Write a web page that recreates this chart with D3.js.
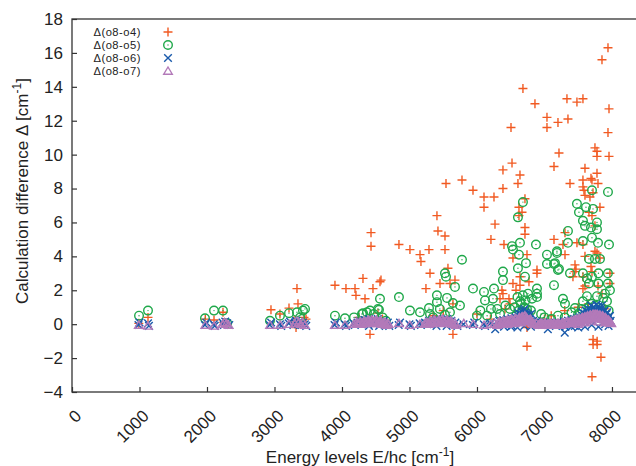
<!DOCTYPE html>
<html>
<head>
<meta charset="utf-8">
<script src="https://cdn.jsdelivr.net/npm/d3@7"></script>
<style>
  html, body { margin: 0; padding: 0; background: #fff; }
  svg { display: block; font-family: "Liberation Sans", Arial, sans-serif; }
</style>
</head>
<body>
<div id="chart"></div>
<script>
// Δ(o8-o4): energy level [cm-1], difference [cm-1]
const diffO4 = [
	[990, 0.05], [1126, 0.4],
	[1975, 0.3], [2104, 0.25], [2237, 0.7], [2250, 0.1],
	[2948, 0.85], [3081, 0.6], [3215, 0.95], [3333, 2.1], [3348, 1.2], [3319, -0.2], [3437, 0.4], [3467, 0.3], [3290, 0.2],
	[3896, 2.3], [4059, 2.1], [4193, 2.1], [4207, 1.7], [4311, 2.7], [4459, 2.1], [4341, 1.5], [4578, 2.6], [4563, 2.5],
	[4430, 5.4], [4430, 4.6], [4415, -0.6], [4533, 0.65], [4600, 0.3], [4250, 0.4], [4480, 0.2],
	[4844, 4.7], [5007, 4.4], [5156, 4.1], [5170, 3.7], [5289, 4.4], [5407, 6.4], [5422, 5.5], [5526, 5.2], [5526, 4.4],
	[5304, 3.0], [5570, 3.3], [5452, 2.4], [5674, 2.6], [5600, 2.4], [5244, 2.1], [5541, 8.3], [5778, 8.5], [5644, 1.2],
	[5644, -0.6], [5500, 0.8], [5350, 0.5],
	[5941, 7.9], [6104, 7.5], [6252, 7.5], [6104, 6.9], [6385, 8.0], [6607, 8.3], [6267, 5.9], [6207, 5.0], [6400, 4.7],
	[6533, 3.9], [6370, 2.0], [6578, 2.0], [6474, 1.5], [6385, 1.8], [6415, 0.9], [6341, 1.5], [6489, 1.2], [6637, 2.3],
	[6533, 2.4], [6770, 2.5], [6637, 2.8], [6889, 3.2], [6889, 3.0], [6741, 4.1], [6711, 5.7], [6711, 5.3], [6711, 7.4],
	[6622, 6.9], [6667, 6.6], [6622, 6.4], [6637, 8.8], [6385, 9.1], [6519, 9.5], [6504, 11.6], [6681, 13.9], [6859, 13.0],
	[6741, -1.3], [6741, -0.2], [6741, 0.05], [6000, 0.6], [6200, 0.3],
	[7037, 12.2], [7037, 11.6], [7200, 11.9], [7348, 12.1], [7333, 13.3], [7481, 13.1], [7570, 13.3], [7941, 16.3],
	[7852, 15.6], [7956, 12.7], [7941, 11.3], [7748, 10.4], [7778, 10.2], [7778, 9.9], [7215, 10.1], [7956, 9.9],
	[7141, 9.3], [7600, 9.2], [7778, 8.9], [7689, 8.6], [7378, 8.3], [7570, 8.5], [7704, 8.5], [7793, 8.3], [7570, 8.1],
	[7585, 7.9], [7600, 7.6], [7674, 7.5], [7719, 7.75], [7822, 6.9], [7659, 6.6], [7704, 6.4], [7748, 5.8], [7304, 5.4],
	[7141, 5.0], [7274, 4.7], [7481, 4.8], [7570, 4.7], [7304, 4.1], [7600, 4.0], [7822, 3.9], [7778, 4.2], [7748, 4.3],
	[7452, 3.5], [7467, 3.25], [7689, 3.4], [7704, 3.1], [7422, 2.8], [7570, 2.8], [7970, 3.0], [7970, 2.4], [7570, 2.1],
	[7852, 1.8], [7793, 2.25], [7600, 2.25], [7452, 3.1], [7720, -0.9], [7780, -1.0], [7720, -1.2], [7780, -1.2],
	[7837, -1.95], [7704, -3.1], [7100, 0.5], [7300, 0.8], [7500, 1.0], [7650, 1.2], [7900, 0.9], [7000, 0.3]
];

// Δ(o8-o5)
const diffO5 = [
	[993, 0.5], [1126, 0.8], [1970, 0.35], [2104, 0.8], [2237, 0.8], [2300, 0.05],
	[2933, 0.2], [3081, 0.5], [3215, 0.65], [3333, 0.7], [3422, 0.8], [3452, 0.9], [3380, 0.4],
	[3896, 0.5], [4044, 0.35], [4178, 0.4], [4296, 0.6], [4311, 0.65], [4415, 0.8], [4548, 0.85], [4533, 0.9],
	[4563, 1.5], [4844, 1.6], [4370, 0.7], [4470, 0.6], [4600, 0.4], [4650, 0.2],
	[5007, 0.8], [5156, 0.7], [5289, 0.95], [5304, 0.6], [5407, 1.7], [5407, 1.3], [5556, 1.55], [5526, 3.0],
	[5541, 2.8], [5778, 3.8], [5674, 2.2], [5941, 2.1], [5748, 1.1], [5644, 1.25], [5526, 0.55], [5450, 0.9],
	[5600, 0.7], [5350, 0.4],
	[6104, 1.9], [6119, 1.4], [6252, 2.1], [6237, 1.5], [6207, 0.9], [6341, 0.6], [6489, 0.9], [6385, 3.1],
	[6385, 2.6], [6519, 4.6], [6533, 4.4], [6637, 4.8], [6874, 4.7], [6622, 4.1], [6726, 3.6], [6607, 3.3],
	[6711, 2.8], [6681, 7.2], [6607, 6.3], [6637, 1.35], [6756, 1.8], [6815, 1.5], [6889, 2.1], [6889, 1.8],
	[6889, 1.6], [7037, 4.1], [7185, 4.3], [7037, 3.55], [7156, 3.6], [7200, 3.2], [7141, 2.3], [6050, 0.8],
	[6150, 0.5], [6300, 0.9], [6420, 1.1], [6560, 1.0], [6600, 1.6], [6650, 1.2], [6680, 1.7], [6700, 1.0],
	[6720, 1.4], [6740, 0.9], [6660, 0.7], [6690, 0.5], [6620, 0.8], [6580, 0.5], [6760, 0.6], [6800, 0.8],
	[6950, 0.6], [7000, 0.4], [6000, 0.5],
	[7704, 7.9], [7941, 7.8], [7481, 7.1], [7615, 6.9], [7719, 6.8], [7511, 6.6], [7570, 6.1], [7600, 5.8],
	[7778, 6.0], [7778, 5.6], [7689, 5.7], [7348, 5.5], [7348, 4.8], [7570, 4.9], [7704, 5.1], [7793, 4.8],
	[7956, 4.7], [7185, 4.2], [7141, 3.55], [7215, 3.25], [7660, 3.85], [7748, 3.85], [7822, 3.85], [7378, 3.0],
	[7570, 3.0], [7630, 2.7], [7704, 2.8], [7800, 3.0], [7940, 3.0], [7940, 2.4], [7800, 2.4], [7660, 2.4],
	[7970, 2.0], [7274, 1.5], [7304, 1.2], [7452, 0.95], [7570, 1.35], [7630, 1.65], [7778, 1.65], [7870, 1.55],
	[7926, 1.35], [7896, 1.8], [7400, 0.7], [7500, 0.6], [7550, 0.9], [7650, 1.0], [7700, 1.2], [7750, 1.1],
	[7850, 0.9], [7950, 0.8], [7300, 0.4], [7200, 0.5], [7100, 0.3], [7600, 0.5], [7750, 0.6]
];

// Δ(o8-o6)
const diffO6 = [
	[985, -0.05], [1000, 0.1], [1126, 0.05], [1140, -0.1],
	[1970, -0.05], [1990, 0.1], [2100, 0.0], [2115, -0.1], [2230, 0.1], [2250, -0.05], [2270, 0.15], [2300, 0.05], [2330, -0.05],
	[2930, -0.05], [2950, 0.1], [3080, 0.0], [3100, -0.1], [3210, 0.05], [3230, 0.15], [3280, -0.05], [3300, 0.1],
	[3320, 0.2], [3350, 0.0], [3370, 0.15], [3400, -0.05], [3420, 0.1], [3450, 0.0], [3470, -0.1],
	[3890, -0.05], [3910, 0.1], [4040, 0.0], [4060, -0.1], [4170, 0.05], [4190, -0.05], [4230, 0.1], [4260, 0.2],
	[4290, 0.0], [4310, 0.15], [4340, 0.25], [4370, 0.05], [4400, 0.3], [4420, 0.1], [4450, 0.2], [4480, 0.0],
	[4500, 0.15], [4530, 0.3], [4560, 0.1], [4590, 0.05], [4620, 0.2], [4650, -0.05], [4680, 0.1], [4700, -0.1],
	[4400, -0.1], [4550, -0.1],
	[4840, -0.05], [4860, 0.1], [5000, 0.0], [5020, -0.1], [5150, 0.05], [5170, -0.05], [5230, 0.1], [5260, 0.0],
	[5290, 0.2], [5310, 0.05], [5340, 0.25], [5370, 0.1], [5400, 0.3], [5420, 0.15], [5450, 0.2], [5480, 0.05],
	[5500, 0.25], [5530, 0.1], [5560, 0.3], [5590, 0.15], [5620, 0.2], [5650, 0.0], [5680, 0.1], [5710, -0.1],
	[5400, -0.1], [5550, -0.1],
	[5800, 0.0], [5940, -0.05], [5960, 0.1], [6100, 0.0], [6120, -0.1], [6200, 0.05], [6250, 0.0], [6270, -0.3],
	[6300, 0.1], [6330, 0.2], [6360, 0.05], [6390, 0.25], [6420, 0.1], [6450, 0.3], [6480, 0.15], [6510, 0.35],
	[6540, 0.2], [6570, 0.4], [6590, 0.3], [6610, 0.5], [6630, 0.35], [6650, 0.6], [6670, 0.45], [6690, 0.8],
	[6700, 0.5], [6720, 0.7], [6740, 0.4], [6760, 0.55], [6780, 0.3], [6800, 0.6], [6830, 0.2], [6850, 0.1],
	[6615, 0.65], [6660, 0.75], [6705, 0.9], [6735, 0.6],
	[6400, -0.15], [6500, -0.15], [6700, -0.1], [6800, -0.15],
	[6880, 0.15], [6900, 0.0], [6930, 0.1], [6960, -0.05], [6990, 0.05], [7020, 0.0], [7050, -0.05], [7080, 0.1],
	[7110, 0.0], [7140, 0.05], [7170, -0.1], [7200, 0.1], [7230, 0.0], [7260, 0.05], [7290, 0.15], [7310, -0.15],
	[7330, 0.1], [7350, 0.2], [7370, 0.05], [7400, 0.25], [7420, 0.1], [7440, 0.3], [7460, 0.15], [7480, 0.35],
	[7500, 0.2], [7520, 0.4], [7540, 0.3], [7560, 0.5], [7580, 0.35], [7600, 0.6], [7620, 0.45], [7640, 0.7],
	[7660, 0.55], [7680, 0.85], [7700, 0.6], [7720, 1.0], [7740, 0.7], [7760, 0.9], [7780, 0.6], [7800, 1.05],
	[7820, 0.7], [7840, 0.9], [7860, 0.5], [7880, 0.75], [7900, 0.4], [7920, 0.6], [7940, 0.3], [7960, 0.45],
	[7980, 0.2], [6600, -0.2], [7050, -0.3], [7300, -0.5], [6520, -0.1], [7450, -0.1], [7700, -0.05], [7900, 0.0],
	[7560, 0.7], [7610, 0.8], [7650, 0.9], [7690, 1.1], [7730, 0.85], [7770, 1.15], [7810, 0.9], [7850, 1.1],
	[7890, 0.8], [7930, 0.7], [7970, 0.5],
	[7400, -0.15], [7500, -0.2], [7600, -0.15], [7800, -0.15], [7950, -0.1]
];

// Δ(o8-o7)
const diffO7 = [
	[990, -0.05], [1126, -0.1],
	[1975, -0.05], [2105, -0.1], [2235, 0.0], [2260, 0.1], [2290, 0.05], [2320, -0.05],
	[2935, -0.05], [3085, -0.05], [3215, 0.0], [3300, 0.05], [3330, 0.2], [3360, 0.1], [3390, 0.0], [3420, 0.1], [3450, -0.05],
	[3895, -0.05], [4045, -0.05], [4175, 0.0], [4230, 0.05], [4260, 0.1], [4290, 0.0], [4320, 0.15], [4350, 0.05],
	[4380, 0.2], [4410, 0.1], [4440, 0.25], [4470, 0.1], [4500, 0.2], [4530, 0.05], [4560, 0.15], [4590, 0.0],
	[4620, 0.1], [4660, -0.05], [4690, 0.0],
	[4215, 0.1], [4245, 0.0], [4275, 0.15], [4305, 0.05], [4335, 0.2], [4365, 0.1], [4395, 0.25], [4425, 0.05],
	[4455, 0.2], [4485, 0.15], [4515, 0.25], [4545, 0.1], [4575, 0.2], [4605, 0.05], [4640, 0.1], [4675, 0.05],
	[4845, 0.05], [5005, -0.05], [5155, 0.0], [5230, 0.05], [5260, 0.1], [5290, 0.0], [5320, 0.15], [5350, 0.05],
	[5380, 0.2], [5410, 0.1], [5440, 0.25], [5470, 0.05], [5500, 0.2], [5530, 0.1], [5560, 0.25], [5590, 0.05],
	[5620, 0.15], [5650, 0.0], [5690, -0.05],
	[5245, 0.1], [5275, 0.05], [5305, 0.2], [5335, 0.1], [5365, 0.25], [5395, 0.1], [5425, 0.2], [5455, 0.15],
	[5485, 0.3], [5515, 0.15], [5545, 0.2], [5575, 0.1], [5605, 0.2], [5635, 0.05], [5670, 0.1],
	[5805, 0.05], [5945, 0.0], [6105, -0.05], [6205, 0.0], [6260, 0.05], [6300, -0.05], [6320, 0.1], [6350, 0.0],
	[6380, 0.15], [6410, 0.05], [6440, 0.2], [6470, 0.1], [6500, 0.25], [6530, 0.1], [6560, 0.3], [6590, 0.15],
	[6620, 0.35], [6640, 0.2], [6660, 0.4], [6680, 0.25], [6700, 0.45], [6720, 0.3], [6740, 0.35], [6760, 0.2],
	[6790, 0.3], [6820, 0.1], [6850, 0.0],
	[6310, 0.05], [6335, 0.15], [6365, 0.1], [6395, 0.2], [6425, 0.15], [6455, 0.25], [6485, 0.2], [6515, 0.3],
	[6545, 0.2], [6575, 0.35], [6605, 0.25], [6630, 0.4], [6650, 0.3], [6670, 0.45], [6690, 0.35], [6710, 0.5],
	[6730, 0.4], [6750, 0.3], [6775, 0.25], [6805, 0.2], [6835, 0.05],
	[6450, 0.0], [6550, 0.05], [6650, 0.1], [6700, 0.15],
	[6880, 0.05], [6910, -0.05], [6940, 0.05], [6970, 0.0], [7000, 0.05],
	[7030, -0.05], [7060, 0.0], [7090, 0.05], [7120, -0.05], [7150, 0.05], [7180, 0.0], [7210, 0.05], [7240, -0.05],
	[7270, 0.1], [7300, 0.0], [7330, 0.1], [7360, 0.05], [7390, 0.15], [7410, 0.05], [7430, 0.2], [7450, 0.1],
	[7470, 0.25], [7490, 0.1], [7510, 0.3], [7530, 0.15], [7550, 0.35], [7570, 0.2], [7590, 0.4], [7610, 0.25],
	[7630, 0.45], [7650, 0.3], [7670, 0.5], [7690, 0.35], [7710, 0.55], [7730, 0.4], [7750, 0.6], [7770, 0.45],
	[7790, 0.55], [7810, 0.35], [7830, 0.5], [7850, 0.3], [7870, 0.45], [7890, 0.25], [7910, 0.35], [7930, 0.15],
	[7950, 0.25], [7970, 0.1], [7990, 0.05],
	[6925, 0.0], [6955, 0.05], [6985, -0.05], [7015, 0.05], [7045, 0.0], [7075, 0.05], [7105, 0.0], [7135, 0.05],
	[7165, -0.05], [7195, 0.05], [7225, 0.0], [7255, 0.05], [7285, 0.05], [7315, 0.1], [7345, 0.15], [7375, 0.1],
	[7400, 0.2], [7420, 0.15], [7440, 0.25], [7460, 0.2], [7480, 0.3], [7500, 0.2], [7520, 0.35], [7540, 0.25],
	[7560, 0.4], [7580, 0.3], [7600, 0.45], [7620, 0.35], [7640, 0.5], [7660, 0.4], [7680, 0.55], [7700, 0.45],
	[7720, 0.6], [7740, 0.5], [7760, 0.55], [7780, 0.6], [7800, 0.45], [7820, 0.55], [7840, 0.4], [7860, 0.5],
	[7880, 0.35], [7900, 0.4], [7920, 0.3], [7940, 0.2], [7960, 0.15], [7980, 0.1],
	[7500, 0.0], [7600, 0.1], [7700, 0.2], [7800, 0.15], [7900, 0.1]
];

const seriesNames = ["Δ(o8-o4)", "Δ(o8-o5)", "Δ(o8-o6)", "Δ(o8-o7)"];
const xTicks = [0, 1000, 2000, 3000, 4000, 5000, 6000, 7000, 8000];
const yTicks = [-4, -2, 0, 2, 4, 6, 8, 10, 12, 14, 16, 18];

const width = 636;
const height = 466;
const margin = { top: 19, right: 0, bottom: 74, left: 72 };

const x = d3.scaleLinear().domain([0, 8356]).range([margin.left, width - margin.right]);
const y = d3.scaleLinear().domain([-4, 18]).range([height - margin.bottom, margin.top]);

// marker shapes, gnuplot-ish outlines
const shapes = {
	plus: "M-4.5,0H4.5M0,-4.5V4.5",
	circle: null,
	cross: "M-3.8,-3.8L3.8,3.8M-3.8,3.8L3.8,-3.8",
	triangle: "M0,-4L4.3,3.2L-4.3,3.2Z"
};
const series = [
	{ name: seriesNames[0], data: diffO4, shape: "plus", color: "#f15a22" },
	{ name: seriesNames[1], data: diffO5, shape: "circle", color: "#1fa84a" },
	{ name: seriesNames[2], data: diffO6, shape: "cross", color: "#1a5aab" },
	{ name: seriesNames[3], data: diffO7, shape: "triangle", color: "#b37ab9" }
];

const svg = d3
	.select("#chart")
	.append("svg")
	.attr("width", width)
	.attr("height", height);

const drawMarker = (g, s) => {
	if (s.shape === "circle") {
		g.append("circle").attr("r", 4.3).attr("fill", "none").attr("stroke", s.color).attr("stroke-width", 1.4);
		g.append("circle").attr("r", 0.7).attr("fill", s.color);
	} else {
		g.append("path")
			.attr("d", shapes[s.shape])
			.attr("fill", "none")
			.attr("stroke", s.color)
			.attr("stroke-width", 1.4);
	}
};

// points
const plot = svg.append("g");
series.forEach((s) => {
	const gs = plot.append("g");
	gs.selectAll("g")
		.data(s.data)
		.join("g")
		.attr("transform", (d) => `translate(${x(d[0])},${y(d[1])})`)
		.each(function () {
			drawMarker(d3.select(this), s);
		});
});

// frame
svg.append("rect")
	.attr("x", margin.left)
	.attr("y", margin.top)
	.attr("width", width - margin.left - margin.right + 2)
	.attr("height", y(-4) - margin.top)
	.attr("fill", "none")
	.attr("stroke", "#333")
	.attr("stroke-width", 1.3);

// y axis (ticks pointing inward)
const yAxis = svg
	.append("g")
	.attr("transform", `translate(${margin.left},0)`)
	.call(d3.axisLeft(y).tickValues(yTicks).tickSize(-5).tickPadding(9));
yAxis.select(".domain").remove();
yAxis.selectAll(".tick line").attr("stroke", "#333").attr("stroke-width", 1.2);
yAxis.selectAll("text").attr("font-size", 17).attr("fill", "#222").attr("font-family", "Liberation Sans, Arial, sans-serif");

// x axis
const xAxis = svg
	.append("g")
	.attr("transform", `translate(0,${y(-4)})`)
	.call(d3.axisBottom(x).tickValues(xTicks).tickSize(-5).tickFormat(d3.format("d")));
xAxis.select(".domain").remove();
xAxis.selectAll(".tick line").attr("stroke", "#333").attr("stroke-width", 1.2);
xAxis.selectAll("text")
	.attr("font-size", 17)
	.attr("fill", "#222")
	.attr("font-family", "Liberation Sans, Arial, sans-serif")
	.attr("text-anchor", "end")
	.attr("dy", null)
	.attr("y", 0)
	.attr("transform", "translate(10,25) rotate(-45)");

// axis titles
const xTitle = svg.append("text")
	.attr("x", 360)
	.attr("y", 463)
	.attr("text-anchor", "middle")
	.attr("font-size", 17)
	.attr("fill", "#222");
xTitle.append("tspan").text("Energy levels E/hc [cm");
xTitle.append("tspan").attr("dy", -7).attr("font-size", 12).text("-1");
xTitle.append("tspan").attr("dy", 7).text("]");

const yTitle = svg.append("text")
	.attr("transform", "translate(28,191) rotate(-90)")
	.attr("text-anchor", "middle")
	.attr("font-size", 17)
	.attr("fill", "#222");
yTitle.append("tspan").text("Calculation difference Δ [cm");
yTitle.append("tspan").attr("dy", -7).attr("font-size", 12).text("-1");
yTitle.append("tspan").attr("dy", 7).text("]");

// legend
const legend = svg.append("g").attr("transform", "translate(0,32)");
series.forEach((s, i) => {
	const row = legend.append("g").attr("transform", `translate(0,${i * 13})`);
	row.append("text")
		.attr("x", 141)
		.attr("y", 0)
		.attr("dy", "0.35em")
		.attr("text-anchor", "end")
		.attr("font-size", 11.2)
		.attr("letter-spacing", 0.5)
		.attr("fill", "#222")
		.text(s.name);
	drawMarker(row.append("g").attr("transform", "translate(168,0)"), s);
});
</script>
</body>
</html>
